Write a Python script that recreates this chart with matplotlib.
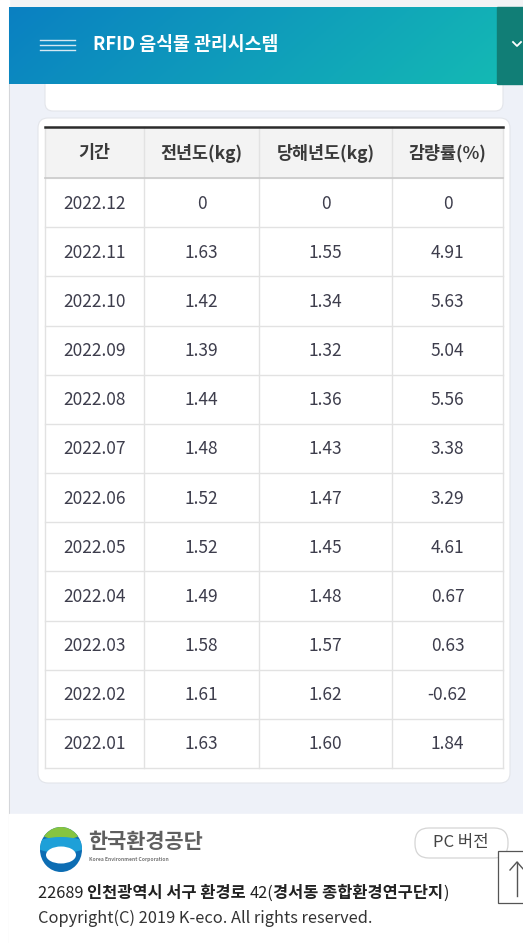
import matplotlib.pyplot as plt
import numpy as np
from matplotlib.patches import FancyBboxPatch, Rectangle, Circle, Ellipse

plt.rcParams['font.family'] = ['Noto Sans CJK KR', 'DejaVu Sans']

# table data
columns = ['기간', '전년도(kg)', '당해년도(kg)', '감량률(%)']
periods = ['2022.12', '2022.11', '2022.10', '2022.09', '2022.08', '2022.07',
           '2022.06', '2022.05', '2022.04', '2022.03', '2022.02', '2022.01']
prev_year = [0, 1.63, 1.42, 1.39, 1.44, 1.48, 1.52, 1.52, 1.49, 1.58, 1.61, 1.63]
this_year = [0, 1.55, 1.34, 1.32, 1.36, 1.43, 1.47, 1.45, 1.48, 1.57, 1.62, 1.60]
reduction = [0, 4.91, 5.63, 5.04, 5.56, 3.38, 3.29, 4.61, 0.67, 0.63, -0.62, 1.84]

title = 'RFID 음식물 관리시스템'
# address in pieces: (text, bold)
address_parts = [('22689 ', False), ('인천광역시 서구 환경로 ', True), ('42(', False),
                 ('경서동 종합환경연구단지', True), (')', False)]
copyright_txt = 'Copyright(C) 2019 K-eco. All rights reserved.'


def fmt(v):
    return '0' if v == 0 else f'{v:.2f}'


W, H = 523, 943
fig = plt.figure(figsize=(W / 100, H / 100), dpi=100)
ax = fig.add_axes([0, 0, 1, 1])
ax.set_xlim(0, W)
ax.set_ylim(H, 0)
ax.axis('off')

# page background
ax.add_patch(Rectangle((0, 0), W, H, color='#eef1f8', zorder=0))
ax.add_patch(Rectangle((0, 0), W, 8, color='#f2f3f5', zorder=0))
ax.add_patch(Rectangle((0, 0), 9, H, color='#ffffff', zorder=0))
ax.plot([9, 9], [8, H], color='#d4d6da', lw=0.8, zorder=1)

# header bar with gradient
gx = np.linspace(0, 1, 200)
gy = np.linspace(0, 1, 20)
grad = gx[None, :] * 0.85 + gy[:, None] * 0.15
c0 = np.array([0x0a, 0x80, 0xc2]) / 255
c1 = np.array([0x14, 0xb9, 0xb4]) / 255
img = c0 + grad[..., None] * (c1 - c0)
ax.imshow(img, extent=(9, 497, 84, 7), aspect='auto', zorder=2)
ax.add_patch(Rectangle((497, 7), 30, 77, color='#117e76', zorder=2))
ax.plot([513, 517, 521], [42, 46, 42], color='white', lw=1.3, zorder=3)
for yy in (40, 45, 50):
    ax.plot([40, 75], [yy, yy], color='#d5e8f2', lw=1.0, zorder=3)
ax.text(93, 45, title, color='white', fontsize=13.2, fontweight='bold',
        va='center', ha='left', zorder=3)

# upper (previous) card
ax.add_patch(FancyBboxPatch((45, 70), 458, 41, boxstyle='round,pad=0,rounding_size=8',
                            fc='white', ec='#e3e5ea', lw=0.8, zorder=1))

# table card
ax.add_patch(FancyBboxPatch((38, 118), 472, 665, boxstyle='round,pad=0,rounding_size=10',
                            fc='white', ec='#e3e5ea', lw=0.8, zorder=1))

col_x = [45, 144, 259, 392, 503]
head_top, head_bot = 127, 178
row_h = (768 - head_bot) / len(periods)

ax.add_patch(Rectangle((col_x[0], head_top), col_x[-1] - col_x[0], head_bot - head_top,
                       color='#f3f3f3', zorder=2))
ax.plot([col_x[0], col_x[-1]], [head_top, head_top], color='#2b2b2b', lw=1.8, zorder=4)
ax.plot([col_x[0], col_x[-1]], [head_bot, head_bot], color='#c9c9c9', lw=1.2, zorder=4)

for i, name in enumerate(columns):
    cx = (col_x[i] + col_x[i + 1]) / 2
    ax.text(cx, (head_top + head_bot) / 2 + 1, name, ha='center', va='center',
            fontsize=12.5, fontweight='bold', color='#3a3a3a', zorder=5)

rows = list(zip(periods, prev_year, this_year, reduction))
for r, (p, a, b, c) in enumerate(rows):
    yc = head_bot + (r + 0.5) * row_h
    yb = head_bot + (r + 1) * row_h
    ax.plot([col_x[0], col_x[-1]], [yb, yb], color='#e2e2e2', lw=1, zorder=3)
    for i, s in enumerate([p, fmt(a), fmt(b), fmt(c)]):
        cx = (col_x[i] + col_x[i + 1]) / 2
        ax.text(cx, yc + 1, s, ha='center', va='center', fontsize=12.5,
                color='#3d3d4c', zorder=5)

for x in col_x:
    ax.plot([x, x], [head_top, 768], color='#e2e2e2', lw=1, zorder=3)

# footer
ax.add_patch(Rectangle((9, 814), W, H - 814, color='white', zorder=1))

# logo
outer = Ellipse((61, 849.5), 42, 45, fc='#0d6db3', ec='none', zorder=3)
ax.add_patch(outer)
cap = Ellipse((61, 817), 64, 46, fc='#86c440', ec='none', zorder=4)
ax.add_patch(cap)
cap.set_clip_path(outer)
band = Ellipse((61, 845), 52, 16, fc='#1ea0d8', ec='none', zorder=4)
ax.add_patch(band)
band.set_clip_path(outer)
ax.add_patch(Ellipse((61, 855), 30, 17, fc='white', ec='none', zorder=5))
ax.text(88, 842, '한국환경공단', fontsize=15, color='#5f5f5f', fontweight='bold',
        va='center', ha='left', zorder=3)
ax.text(89, 860, 'Korea Environment Corporation', fontsize=3.6, color='#777777',
        fontweight='bold', va='center', ha='left', zorder=3)

# PC button
ax.add_patch(FancyBboxPatch((415, 828), 93, 30, boxstyle='round,pad=0,rounding_size=14',
                            fc='white', ec='#d5d5d5', lw=0.9, zorder=3))
ax.text(461, 842, 'PC 버전', fontsize=12, color='#444444', ha='center', va='center', zorder=4)

# scroll-to-top button
ax.add_patch(Rectangle((498, 851), 30, 52, fc='white', ec='#555555', lw=0.9, zorder=4))
ax.plot([517, 517], [862, 896], color='#555555', lw=1.0, zorder=5)
ax.plot([510, 517, 524], [870, 862, 870], color='#555555', lw=1.0, zorder=5)

# address line built from regular and bold pieces
prev = None
for txt, bold in address_parts:
    kw = dict(fontsize=11.8, color='#222222', fontweight='bold' if bold else 'normal',
              va='center', ha='left', zorder=3)
    if prev is None:
        prev = ax.text(38, 893, txt, **kw)
    else:
        prev = ax.annotate(txt, xy=(1, 0.5), xycoords=prev, **kw)

ax.text(38, 918, copyright_txt, fontsize=11.8, color='#333333', ha='left',
        va='center', zorder=3)

fig.savefig('out.png', dpi=100)
